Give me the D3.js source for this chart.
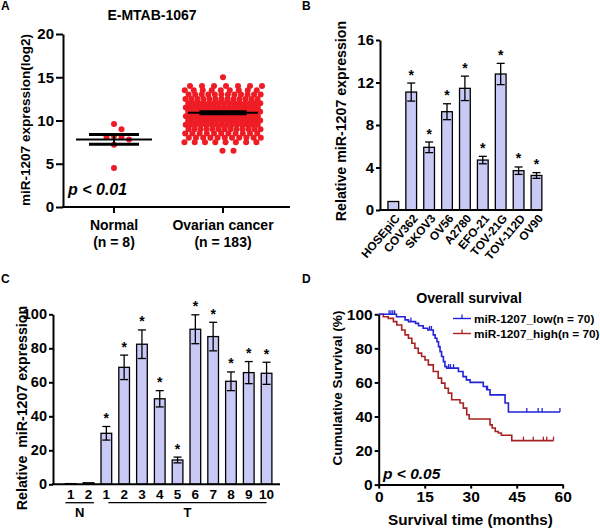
<!DOCTYPE html>
<html><head><meta charset="utf-8">
<script src="https://cdn.jsdelivr.net/npm/d3@7"></script>
<style>
body{margin:0;background:#fff}
svg{font-family:"Liberation Sans",Arial,sans-serif;font-weight:bold}
</style></head><body>
<svg id="c" width="600" height="529"></svg>
<script>
// ---------------- Panel A data ----------------
const groupsA = ["Normal", "Ovarian cancer"];
const groupSubA = ["(n = 8)", "(n = 183)"];
const normalValues = [9.6, 9.0, 8.2, 8.1, 8.1, 7.8, 7.2, 4.5];
const cancerLevels = [15, 14, 13.5, 13, 12.5, 12, 11.5, 11, 10.5, 10, 9.5, 9, 8.5, 8, 7.5, 6.5];
const cancerCounts = [1, 7, 9, 12, 13, 15, 16, 17, 17, 16, 15, 13, 11, 11, 8, 2];
const meanA = [7.81, 10.9];
const semA = [0.56, 0.12];
const ticksA = [0, 5, 10, 15, 20];

// ---------------- Panel B data ----------------
const cellLines = ["HOSEpiC", "COV362", "SKOV3", "OV56", "A2780", "EFO-21", "TOV-21G", "TOV-112D", "OV90"];
const cellMeans = [0.8, 11.1, 5.9, 9.25, 11.45, 4.7, 12.8, 3.7, 3.25];
const cellErr = [0, 0.85, 0.5, 0.75, 1.15, 0.35, 1.0, 0.35, 0.27];
const cellSig = [false, true, true, true, true, true, true, true, true];
const ticksB = [0, 4, 8, 12, 16];

// ---------------- Panel C data ----------------
const sampleIds = ["N1", "N2", "T1", "T2", "T3", "T4", "T5", "T6", "T7", "T8", "T9", "T10"];
const sampleLabels = ["1", "2", "1", "2", "3", "4", "5", "6", "7", "8", "9", "10"];
const sampleMeans = [0.4, 0.9, 30, 68.8, 82.4, 50.3, 14.3, 91.2, 86.9, 60.6, 65.7, 65.3];
const sampleErr = [0, 0, 4, 7.2, 8.4, 4.8, 1.7, 8.5, 8.4, 5.5, 6.5, 6.5];
const sampleSig = [false, false, true, true, true, true, true, true, true, true, true, true];
const groupLabelsC = ["N", "T"];
const groupFromC = ["N1", "T1"];
const groupToC = ["N2", "T10"];
const ticksC = [0, 20, 40, 60, 80, 100];

// ---------------- Panel D data ----------------
const survLabels = ["miR-1207_low(n = 70)", "miR-1207_high(n = 70)"];
const lowSteps = [[0,100],[5.8,98.6],[8.6,96.7],[9.7,95.7],[12.0,94.7],[13.0,93.3],[14.5,91.8],[16.0,90.8],[17.8,87.9],[18.4,85.9],[19.0,83.9],[19.5,81.0],[20.0,78.1],[20.5,75.2],[21.1,72.2],[21.6,69.3],[22.2,68.4],[26.0,66.4],[27.5,63.4],[28.6,61.5],[29.8,60.0],[34.1,57.6],[35.2,55.7],[36.3,52.7],[41.2,47.9],[42.3,42.6]];
const lowEnd = 59.1;
const lowCensor = [3.4, 4.0, 4.6, 5.2, 10.5, 16.6, 17.2, 22.8, 23.4, 24.4, 35.5, 48.3, 52.0, 53.3, 59.1];
const highSteps = [[0,100],[1.5,98.6],[3.1,97.6],[4.8,95.7],[5.9,93.7],[7.5,90.8],[8.6,87.9],[9.7,85.9],[10.8,83.0],[11.8,80.1],[12.9,77.2],[14.0,75.2],[15.1,73.2],[16.2,70.3],[17.8,66.4],[19.4,62.5],[20.5,59.6],[21.6,56.6],[22.7,53.7],[23.8,49.8],[26.5,47.9],[27.6,44.9],[28.7,41.0],[29.5,38.5],[36.3,35.1],[37.0,33.2],[38.0,31.2],[39.0,30.3],[40.0,29.0],[43.4,25.8]];
const highEnd = 57.0;
const highCensor = [47.2, 50.4, 53.7, 54.8, 57.0];
const ticksDx = [0, 15, 30, 45, 60];
const ticksDy = [0, 20, 40, 60, 80, 100];

// ---------------- drawing ----------------
const svg = d3.select("#c");
const RED = "#ee1c24", BAR = "#c9c9f5", BLUE = "#2222d6", DRED = "#a82222";

function styleAxis(g, fs) {
  g.selectAll("path.domain").attr("stroke", "#000").attr("stroke-width", 2);
  g.selectAll(".tick line").attr("stroke", "#000").attr("stroke-width", 2);
  g.selectAll(".tick text").attr("font-size", fs).attr("font-weight", "bold")
    .attr("font-family", "Liberation Sans, Arial, sans-serif").attr("fill", "#000");
}
function txt(x, y, s, fs, opts = {}) {
  const t = svg.append("text").attr("x", x).attr("y", y).attr("font-size", fs)
    .attr("text-anchor", opts.anchor || "middle").text(s);
  if (opts.italic) t.attr("font-style", "italic");
  if (opts.rotate) t.attr("x", null).attr("y", null)
    .attr("transform", `translate(${x},${y}) rotate(${opts.rotate})`).attr("dy", "0.35em");
  if (opts.pre) t.style("white-space", "pre");
  return t;
}
function hline(x1, x2, y, w) {
  svg.append("line").attr("x1", x1).attr("x2", x2).attr("y1", y).attr("y2", y)
    .attr("stroke", "#000").attr("stroke-width", w);
}

// Panel letters
txt(1, 10, "A", 12, {anchor: "start"});
txt(302, 10, "B", 12, {anchor: "start"});
txt(1, 283, "C", 12, {anchor: "start"});
txt(302, 283, "D", 12, {anchor: "start"});

// ===== Panel A =====
const yA = d3.scaleLinear().domain([0, 20]).range([207, 34]);
const xA = d3.scalePoint().domain(groupsA).range([114, 223]);
svg.append("g").attr("transform", "translate(63,0)")
  .call(d3.axisLeft(yA).tickValues(ticksA).tickSize(7).tickSizeOuter(0).tickPadding(2))
  .call(g => styleAxis(g, 15));
hline(62, 290, yA(0), 2);
groupsA.forEach((g, i) => {
  svg.append("line").attr("x1", xA(g)).attr("x2", xA(g)).attr("y1", yA(0)).attr("y2", yA(0) + 6)
    .attr("stroke", "#000").attr("stroke-width", 2);
  txt(xA(g), 229.5, g, 14);
  txt(xA(g), 246.5, groupSubA[i], 14);
});
txt(152, 19.5, "E-MTAB-1067", 14);
txt(25, 120, "miR-1207 expression(log2)", 13.5, {rotate: -90});
txt(68, 195, "p < 0.01", 16, {anchor: "start", italic: true});

// normal points (greedy swarm)
const placed = [];
normalValues.forEach(v => {
  const y = yA(v); let x;
  for (const c of [0, 1, -1, 2, -2, 3, -3]) {
    x = xA("Normal") + c * 7.5;
    if (placed.every(p => Math.hypot(p.x - x, p.y - y) >= 6)) break;
  }
  placed.push({x, y});
});
svg.append("g").selectAll("circle").data(placed).join("circle")
  .attr("cx", d => d.x).attr("cy", d => d.y).attr("r", 3).attr("fill", RED);

// cancer points (binned, staggered rows)
const cpts = [];
cancerLevels.forEach((lv, li) => {
  const n = cancerCounts[li];
  const sp = n <= 1 ? 0 : (n === 2 ? 11 : 72 / (n - 1));
  const shift = n > 2 ? (li % 2 ? 0.25 : -0.25) * sp : (n === 2 ? 5 : 0);
  for (let i = 0; i < n; i++) {
    cpts.push({x: xA("Ovarian cancer") + shift + (i - (n - 1) / 2) * sp, y: yA(lv)});
  }
});
svg.append("g").selectAll("circle").data(cpts).join("circle")
  .attr("cx", d => d.x).attr("cy", d => d.y).attr("r", 3).attr("fill", RED);

// mean / sem
groupsA.forEach((g, i) => {
  const cx = xA(g);
  const mw = i === 0 ? 38 : 35, sw = i === 0 ? 25 : 23.5;
  hline(cx - mw, cx + mw, yA(meanA[i]), 2);
  hline(cx - sw, cx + sw, yA(meanA[i] + semA[i]), 3);
  hline(cx - sw, cx + sw, yA(meanA[i] - semA[i]), 3);
  svg.append("line").attr("x1", cx).attr("x2", cx)
    .attr("y1", yA(meanA[i] + semA[i])).attr("y2", yA(meanA[i] - semA[i]))
    .attr("stroke", "#000").attr("stroke-width", 2);
});

// ===== Bar helper =====
function bars(ids, means, errs, sig, x, y) {
  const g = svg.append("g");
  ids.forEach((id, i) => {
    const x0 = x(id), bw = x.bandwidth(), cx = x0 + bw / 2;
    g.append("rect").attr("x", x0).attr("y", y(means[i])).attr("width", bw)
      .attr("height", y(0) - y(means[i])).attr("fill", BAR).attr("stroke", "#000").attr("stroke-width", 1.3);
    if (errs[i] > 0) {
      const t = y(means[i] + errs[i]), b = y(means[i] - errs[i]);
      g.append("line").attr("x1", cx).attr("x2", cx).attr("y1", t).attr("y2", b).attr("stroke", "#000").attr("stroke-width", 1.3);
      [t, b].forEach(yy => g.append("line").attr("x1", cx - 4).attr("x2", cx + 4).attr("y1", yy).attr("y2", yy).attr("stroke", "#000").attr("stroke-width", 1.3));
    }
    if (sig[i]) txt(cx, y(means[i] + errs[i]) - 3.5, "*", 14);
  });
}

// ===== Panel B =====
const yB = d3.scaleLinear().domain([0, 16]).range([210, 40]);
const xB = d3.scaleBand().domain(cellLines).range([379, 550.8]).paddingInner(0.4).paddingOuter(0.5);
svg.append("g").attr("transform", "translate(380,0)")
  .call(d3.axisLeft(yB).tickValues(ticksB).tickSize(4).tickSizeOuter(0).tickPadding(2))
  .call(g => styleAxis(g, 15));
bars(cellLines, cellMeans, cellErr, cellSig, xB, yB);
hline(379, 542, yB(0), 2);
cellLines.forEach(c => {
  svg.append("text").attr("transform", `translate(${xB(c) + xB.bandwidth() / 2 + 4},${216}) rotate(-50)`)
    .attr("text-anchor", "end").attr("dy", "0.35em").attr("font-size", 11.8).text(c);
});
txt(341.5, 121, "Relative miR-1207 expression", 14.2, {rotate: -90});

// ===== Panel C =====
const yC = d3.scaleLinear().domain([0, 100]).range([484.3, 314.3]);
const xC = d3.scaleBand().domain(sampleIds).range([56.5, 280.8]).paddingInner(0.4).paddingOuter(0.5);
svg.append("g").attr("transform", "translate(53,0)")
  .call(d3.axisLeft(yC).tickValues(ticksC).tickSize(4).tickSizeOuter(0).tickPadding(2))
  .call(g => styleAxis(g, 14.5));
bars(sampleIds, sampleMeans, sampleErr, sampleSig, xC, yC);
hline(52, 280, yC(0), 2);
sampleIds.forEach((id, i) => txt(xC(id) + xC.bandwidth() / 2, 498.5, sampleLabels[i], 13.5));
groupLabelsC.forEach((lab, i) => {
  const a = groupFromC[i], b = groupToC[i];
  const x1 = i === 0 ? xC(a) : xC(a) + xC.bandwidth() / 2 + 2;
  const x2 = i === 0 ? xC(b) + xC.bandwidth() : xC(b) + xC.bandwidth() / 2;
  hline(x1, x2, 502.7, 1.3);
  txt((x1 + x2) / 2, 517, lab, 13);
});
txt(22.5, 408, "Relative  miR-1207 expression", 14.2, {rotate: -90, pre: true});

// ===== Panel D =====
const xD = d3.scaleLinear().domain([0, 60]).range([378.7, 562.7]);
const yD = d3.scaleLinear().domain([0, 100]).range([484.6, 314.3]);
svg.append("g").attr("transform", "translate(378.7,0)")
  .call(d3.axisLeft(yD).tickValues(ticksDy).tickSize(4).tickSizeOuter(0).tickPadding(2))
  .call(g => styleAxis(g, 15.5));
svg.append("g").attr("transform", `translate(0,${yD(0)})`)
  .call(d3.axisBottom(xD).tickValues(ticksDx).tickSize(4).tickSizeOuter(0).tickPadding(2))
  .call(g => styleAxis(g, 15.5));
const stepLine = d3.line().x(d => xD(d[0])).y(d => yD(d[1])).curve(d3.curveStepAfter);
function survAt(steps, t) { let s = steps[0][1]; steps.forEach(d => { if (d[0] <= t) s = d[1]; }); return s; }
function curve(steps, end, cens, color) {
  const pts = steps.concat([[end, steps[steps.length - 1][1]]]);
  svg.append("path").attr("d", stepLine(pts)).attr("fill", "none").attr("stroke", color).attr("stroke-width", 1.6);
  cens.forEach(t => {
    const y = yD(survAt(steps, t));
    svg.append("line").attr("x1", xD(t)).attr("x2", xD(t)).attr("y1", y).attr("y2", y - 4)
      .attr("stroke", color).attr("stroke-width", 1.3);
  });
}
curve(highSteps, highEnd, highCensor, DRED);
curve(lowSteps, lowEnd, lowCensor, BLUE);
txt(469, 303, "Overall survival", 14.2);
txt(337, 388, "Cumulative Survival (%)", 13.6, {rotate: -90});
txt(470.5, 525, "Survival time (months)", 15.3);
txt(383, 478.5, "p < 0.05", 15.5, {anchor: "start", italic: true});
[BLUE, DRED].forEach((c, i) => {
  const y = 318.5 + i * 15;
  svg.append("line").attr("x1", 453).attr("x2", 471).attr("y1", y).attr("y2", y).attr("stroke", c).attr("stroke-width", 1.4);
  svg.append("line").attr("x1", 462).attr("x2", 462).attr("y1", y).attr("y2", y - 4).attr("stroke", c).attr("stroke-width", 1.3);
  txt(474, y, survLabels[i], 11.8, {anchor: "start"}).attr("dy", "0.35em");
});
</script>
</body></html>
